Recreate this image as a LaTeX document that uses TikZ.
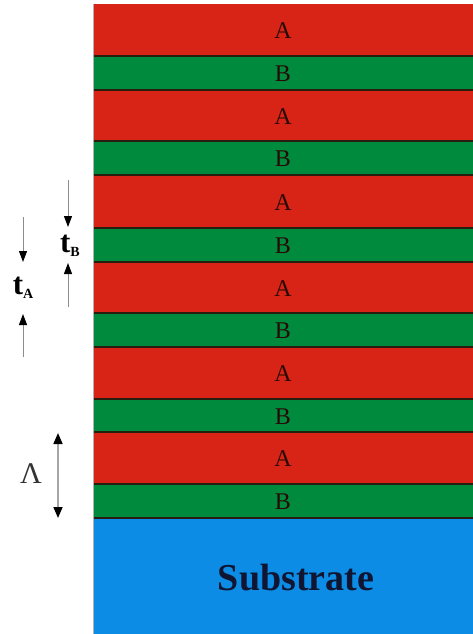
\documentclass[tikz,border=0pt]{standalone}
\usepackage{fontspec}
\setmainfont{Liberation Serif}
\usetikzlibrary{arrows.meta}
\definecolor{layA}{RGB}{216,36,22}
\definecolor{layB}{RGB}{0,138,62}
\definecolor{subst}{RGB}{12,140,228}
\definecolor{iface}{RGB}{40,30,15}
\definecolor{txtA}{RGB}{40,10,5}
\definecolor{txtS}{RGB}{16,22,50}
\tikzset{
  lbl/.style={font=\fontsize{24}{26}\selectfont, text=txtA, inner sep=0pt},
  thk/.style={font=\fontsize{31}{32}\bfseries\selectfont, inner sep=0pt},
  arr/.style={draw=gray!90, line width=1pt, -{Triangle[length=11pt,width=8pt,color=black]}},
  darr/.style={draw=gray!70, line width=1.6pt, {Triangle[length=11pt,width=9pt,color=black]}-{Triangle[length=11pt,width=9pt,color=black]}},
  ifl/.style={draw=iface, line width=1.4pt}
}
\begin{document}
\begin{tikzpicture}[x=1pt,y=-1pt]
\useasboundingbox (0,0) rectangle (473,634);
\fill[white] (0,0) rectangle (473,634);
% layers
\foreach \i/\t/\b/\c/\l in {1/4/56/layA/A,2/56/90/layB/B,3/90/141/layA/A,4/141/175/layB/B,5/175/228/layA/A,6/228/262/layB/B,7/262/313/layA/A,8/313/347/layB/B,9/347/399/layA/A,10/399/432/layB/B,11/432/484/layA/A,12/484/518/layB/B}{
  \fill[\c] (93,\t) rectangle (473,\b);
  \node[lbl] (L\i) at (283,{(\t+\b)/2+1}) {\l};
}
\fill[subst] (93,518) rectangle (473,634);
\node[font=\fontsize{38}{40}\bfseries\selectfont, text=txtS, inner sep=0pt] (sub) at (296,578) {Substrate};
% interfaces
\foreach \y in {56,90,141,175,228,262,313,347,399,432,484}{
  \draw[ifl] (93,\y) -- (473,\y);
}
\draw[draw=iface, line width=1.8pt] (93,518) -- (473,518);
\draw[draw=gray!60, line width=1pt] (93,4) -- (93,634);
% t_A
\coordinate (ta1) at (23,217);
\coordinate (ta2) at (23,262);
\coordinate (ta3) at (23,357);
\coordinate (ta4) at (23,314);
\draw[arr] (ta1) -- (ta2);
\draw[arr] (ta3) -- (ta4);
\node[thk] (tA) at (23,288) {t\raisebox{-4pt}{\fontsize{14}{14}\selectfont A}};
% t_B
\coordinate (tb1) at (68,180);
\coordinate (tb2) at (68,227);
\coordinate (tb3) at (68,307);
\coordinate (tb4) at (68,263);
\draw[arr] (tb1) -- (tb2);
\draw[arr] (tb3) -- (tb4);
\node[thk] (tB) at (70,246) {t\raisebox{-4pt}{\fontsize{14}{14}\selectfont B}};
% Lambda
\coordinate (la1) at (58,433);
\coordinate (la2) at (58,518);
\draw[darr] (la1) -- (la2);
\node[font=\fontsize{30}{32}\selectfont, text=black!80, inner sep=0pt] (lam) at (31,474) {Λ};
\end{tikzpicture}
\end{document}
